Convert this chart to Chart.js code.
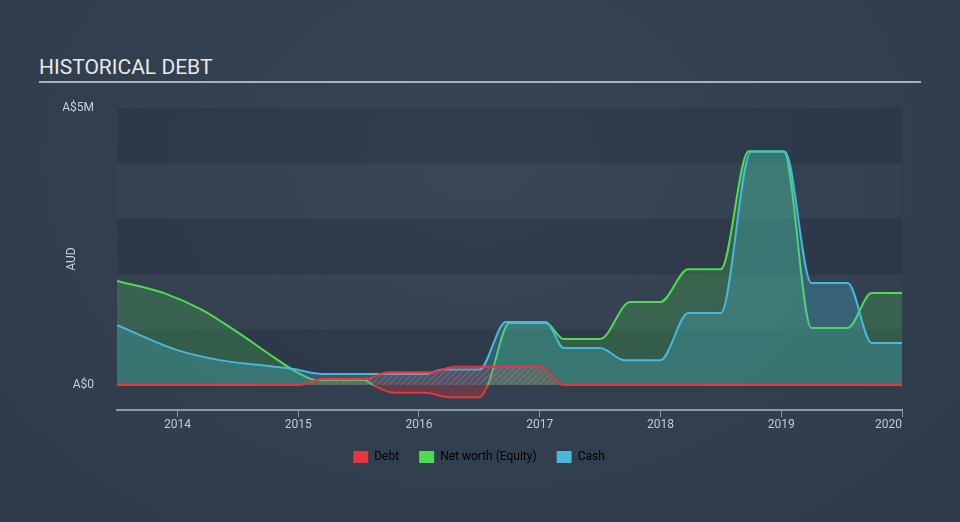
<!DOCTYPE html>
<html>
<head>
<meta charset="utf-8">
<script src="https://cdn.jsdelivr.net/npm/chart.js@4/dist/chart.umd.min.js"></script>
<style>
  html, body { margin: 0; padding: 0; }
  body { width: 960px; height: 522px; background: #323f4e; position: relative; overflow: hidden; font-family: Roboto, "Noto Sans", sans-serif; }
  #bg { position: absolute; left: 0; top: 0; width: 960px; height: 522px;
        background: radial-gradient(ellipse at 50% 30%, #364454 0%, #323f4f 55%, #2e3b4a 100%); }
  #title { position: absolute; left: 39px; top: 55px; width: 882px; height: 25px; line-height: 25px;
           font-size: 21px; color: #e6e8ea; border-bottom: 2px solid #aab1b8; padding-bottom: 1px; }
  #c { position: absolute; left: 0; top: 0; }
</style>
</head>
<body>
<div id="bg"></div>
<div id="title">HISTORICAL DEBT</div>
<canvas id="c" width="960" height="522"></canvas>
<script>
// ---- data (values in A$ millions, x in decimal years) ----
const debtYears  = [2013.5, 2015.0, 2015.2, 2015.55, 2015.75, 2016.1, 2016.3, 2017.0, 2017.2, 2020.0];
const debtValues = [0, 0, 0.11, 0.11, 0.23, 0.23, 0.33, 0.33, 0, 0];

const equityYears  = [2013.5, 2013.9, 2014.2, 2014.5, 2014.8, 2015.0, 2015.15, 2015.55, 2015.62, 2015.8, 2016.05, 2016.25, 2016.5, 2016.57, 2016.75, 2017.05, 2017.2, 2017.5, 2017.75, 2018.0, 2018.23, 2018.5, 2018.73, 2019.02, 2019.25, 2019.55, 2019.75, 2020.0];
const equityValues = [1.88, 1.65, 1.36, 0.95, 0.50, 0.22, 0.09, 0.09, 0, -0.14, -0.14, -0.22, -0.22, 0, 1.12, 1.12, 0.83, 0.83, 1.50, 1.50, 2.09, 2.09, 4.22, 4.22, 1.03, 1.03, 1.66, 1.66];

const cashYears  = [2013.5, 2014.0, 2014.35, 2014.68, 2014.96, 2015.2, 2016.05, 2016.2, 2016.5, 2016.72, 2017.05, 2017.2, 2017.5, 2017.7, 2018.0, 2018.23, 2018.5, 2018.75, 2019.03, 2019.25, 2019.55, 2019.75, 2020.0];
const cashValues = [1.08, 0.63, 0.45, 0.36, 0.29, 0.20, 0.20, 0.28, 0.28, 1.14, 1.14, 0.67, 0.67, 0.45, 0.45, 1.30, 1.30, 4.21, 4.21, 1.84, 1.84, 0.76, 0.76];

const yearTicks = [2014, 2015, 2016, 2017, 2018, 2019, 2020];
const legendLabels = ['Debt', 'Net worth (Equity)', 'Cash'];

const RED = '#e8363c', GREEN = '#4fdb4f', BLUE = '#48b7dc';

function pts(xs, ys) { return xs.map((x, i) => ({ x: x, y: ys[i] })); }

// hatch pattern for debt area
function hatch() {
  const p = document.createElement('canvas');
  p.width = 6; p.height = 6;
  const g = p.getContext('2d');
  g.fillStyle = 'rgba(232,54,60,0.10)';
  g.fillRect(0, 0, 6, 6);
  g.strokeStyle = 'rgba(232,90,90,0.55)';
  g.lineWidth = 1.2;
  g.beginPath();
  g.moveTo(0, 6); g.lineTo(6, 0);
  g.moveTo(-3, 3); g.lineTo(3, -3);
  g.moveTo(3, 9); g.lineTo(9, 3);
  g.stroke();
  return g.createPattern(p, 'repeat');
}

const stripes = {
  id: 'stripes',
  beforeDatasetsDraw(chart) {
    const { ctx, chartArea: a, scales: { y } } = chart;
    ctx.save();
    for (let k = 0; k < 5; k++) {
      const top = y.getPixelForValue(k + 1), bot = y.getPixelForValue(k);
      ctx.fillStyle = (k % 2 === 0) ? 'rgba(20,30,42,0.15)' : 'rgba(255,255,255,0.01)';
      ctx.fillRect(a.left, top, a.right - a.left, bot - top);
    }
    ctx.restore();
  }
};

const ctx = document.getElementById('c').getContext('2d');
new Chart(ctx, {
  type: 'line',
  data: {
    datasets: [
      {
        label: legendLabels[2],
        data: pts(cashYears, cashValues),
        borderColor: BLUE,
        backgroundColor: 'rgba(72,183,220,0.28)',
        fill: 'origin',
        order: 2
      },
      {
        label: legendLabels[1],
        data: pts(equityYears, equityValues),
        borderColor: GREEN,
        fill: { target: 'origin', above: 'rgba(79,219,79,0.22)', below: 'rgba(232,54,60,0.28)' },
        segment: {
          borderColor: c => (c.p0.parsed.y < -1e-9 || c.p1.parsed.y < -1e-9) ? RED : undefined
        },
        order: 3
      },
      {
        label: legendLabels[0],
        data: pts(debtYears, debtValues),
        borderColor: RED,
        backgroundColor: hatch(),
        fill: 'origin',
        order: 1
      }
    ]
  },
  options: {
    responsive: false,
    animation: false,
    devicePixelRatio: 1,
    layout: { padding: { left: 56, right: 58, top: 108, bottom: 49 } },
    elements: {
      point: { radius: 0, hoverRadius: 0 },
      line: { borderWidth: 2, cubicInterpolationMode: 'monotone' }
    },
    scales: {
      x: {
        type: 'linear',
        min: 2013.5,
        max: 2020.0,
        afterFit: s => { s.height = 21; },
        afterBuildTicks: s => { s.ticks = [{ value: 2013.5 }].concat(yearTicks.map(v => ({ value: v }))); },
        ticks: {
          autoSkip: false,
          maxRotation: 0,
          align: 'inner',
          padding: 1,
          color: '#c3cad1',
          font: { family: 'Roboto', size: 12 },
          callback: v => (Number.isInteger(v) ? String(v) : '')
        },
        grid: {
          drawOnChartArea: false,
          drawTicks: true,
          tickLength: 7,
          tickWidth: 1,
          tickColor: c => (c.tick && Number.isInteger(c.tick.value)) ? '#8f99a5' : 'rgba(0,0,0,0)'
        },
        border: { display: true, color: '#8f99a5', width: 2 }
      },
      y: {
        min: -0.45,
        max: 5,
        afterFit: s => { s.width = 61; },
        afterBuildTicks: s => { s.ticks = [{ value: 0 }, { value: 5 }]; },
        ticks: {
          padding: 15,
          color: '#c8ced4',
          font: { family: 'Roboto', size: 12 },
          callback: v => (v === 0 ? 'A$0' : 'A$5M')
        },
        grid: { display: false },
        border: { display: false },
        title: {
          display: true,
          text: 'AUD',
          color: '#c8ced4',
          font: { family: 'Roboto', size: 12 },
          padding: { top: 9, bottom: 0 }
        }
      }
    },
    plugins: {
      tooltip: { enabled: false },
      legend: {
        position: 'bottom',
        labels: {
          boxWidth: 15,
          boxHeight: 12,
          padding: 20,
          color: '#d3d8dc',
          font: { family: 'Roboto', size: 12 },
          generateLabels: () => [
            { text: legendLabels[0], fillStyle: RED, strokeStyle: RED, lineWidth: 0, datasetIndex: 2 },
            { text: legendLabels[1], fillStyle: GREEN, strokeStyle: GREEN, lineWidth: 0, datasetIndex: 1 },
            { text: legendLabels[2], fillStyle: BLUE, strokeStyle: BLUE, lineWidth: 0, datasetIndex: 0 }
          ]
        }
      }
    }
  },
  plugins: [stripes]
});
</script>
</body>
</html>
